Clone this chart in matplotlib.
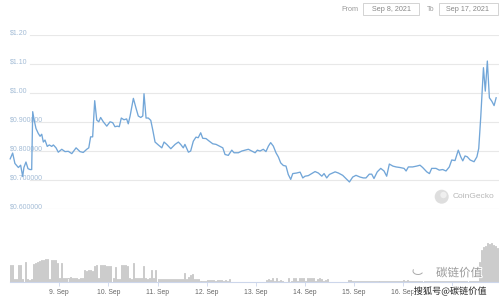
import matplotlib
matplotlib.use('Agg')
import matplotlib.pyplot as plt
import matplotlib.patches as mpatches
import matplotlib.patheffects as pe

plt.rcParams['font.family'] = ['Liberation Sans', 'Noto Sans CJK SC', 'DejaVu Sans']

# ---------------- data ----------------
# hours since 8 Sep 2021 00:00 and price in USD
hours = [0.0, 1.2, 2.3, 4.0, 5.1, 6.1, 6.7, 7.7, 8.7, 9.7, 10.5, 11.0, 11.6, 12.6, 13.7,
         14.6, 15.4, 16.2, 17.0, 18.1, 19.1, 20.3, 21.1, 22.4, 23.5, 25.2, 26.8, 28.4,
         30.1, 32.2, 34.1, 35.7, 37.4, 38.4, 39.3, 40.3, 41.3, 42.3, 43.3, 44.2, 45.5,
         47.2, 48.8, 50.1, 51.2, 52.4, 53.3, 54.3, 55.6, 56.9, 57.7, 58.6, 60.2, 61.5,
         62.6, 63.8, 64.8, 65.4, 66.4, 67.5, 68.7, 69.7, 70.8, 72.4, 74.1, 75.2, 76.5,
         78.5, 80.6, 82.2, 83.3, 84.6, 85.4, 87.1, 88.2, 89.5, 90.8, 91.9, 93.1, 94.1,
         95.7, 97.3, 99.0, 100.6, 102.2, 103.9, 105.0, 106.6, 108.3, 109.4, 111.5, 113.2,
         114.8, 116.4, 118.0, 119.7, 120.8, 122.1, 123.7, 125.0, 126.2, 127.3, 128.6,
         129.9, 131.1, 132.2, 133.5, 134.8, 135.9, 137.1, 138.1, 140.0, 141.7, 143.0,
         144.1, 145.7, 147.4, 149.0, 150.6, 152.3, 153.4, 154.7, 156.0, 158.8, 160.4,
         162.5, 164.1, 165.8, 167.4, 169.0, 171.0, 172.6, 173.9, 175.5, 176.7, 177.8,
         179.4, 181.1, 182.7, 184.0, 185.3, 187.0, 188.6, 190.5, 192.5, 193.5, 194.6,
         196.7, 198.7, 200.3, 201.6, 203.6, 204.9, 206.0, 208.1, 209.7, 211.4, 213.0,
         214.6, 215.8, 217.4, 219.0, 220.2, 221.2, 222.3, 223.4, 224.8, 226.7, 228.1,
         229.0, 230.0, 231.3, 232.2, 233.2, 234.2, 235.4, 236.5, 237.5]
prices = [0.772, 0.792, 0.756, 0.742, 0.750, 0.711, 0.742, 0.761, 0.738, 0.735, 0.735,
          0.935, 0.910, 0.877, 0.860, 0.850, 0.857, 0.830, 0.837, 0.815, 0.820, 0.815,
          0.820, 0.810, 0.795, 0.805, 0.797, 0.798, 0.790, 0.810, 0.797, 0.794, 0.805,
          0.810, 0.848, 0.848, 0.973, 0.906, 0.900, 0.915, 0.900, 0.885, 0.900, 0.897,
          0.883, 0.885, 0.883, 0.913, 0.907, 0.910, 0.893, 0.920, 0.981, 0.947, 0.920,
          0.915, 0.920, 0.997, 0.913, 0.913, 0.905, 0.871, 0.830, 0.820, 0.810, 0.830,
          0.822, 0.807, 0.822, 0.830, 0.822, 0.810, 0.822, 0.795, 0.799, 0.833, 0.847,
          0.845, 0.862, 0.843, 0.842, 0.833, 0.824, 0.822, 0.816, 0.810, 0.787, 0.784,
          0.802, 0.793, 0.793, 0.799, 0.802, 0.805, 0.799, 0.793, 0.802, 0.799, 0.805,
          0.797, 0.816, 0.828, 0.816, 0.793, 0.778, 0.758, 0.749, 0.747, 0.718, 0.701,
          0.721, 0.723, 0.726, 0.706, 0.712, 0.714, 0.721, 0.728, 0.723, 0.712, 0.721,
          0.706, 0.718, 0.727, 0.723, 0.715, 0.704, 0.692, 0.709, 0.715, 0.709, 0.706,
          0.706, 0.719, 0.719, 0.704, 0.727, 0.739, 0.730, 0.712, 0.754, 0.747, 0.744,
          0.742, 0.739, 0.730, 0.744, 0.744, 0.747, 0.750, 0.742, 0.727, 0.721, 0.739,
          0.739, 0.733, 0.735, 0.730, 0.744, 0.768, 0.766, 0.802, 0.779, 0.765, 0.782,
          0.779, 0.768, 0.762, 0.779, 0.808, 0.919, 1.087, 1.006, 1.110, 0.983, 0.971,
          0.956, 0.983]

# hourly volume (arbitrary units), one value per hour from 0 to 238
volume = [17, 17, 3, 3, 16.7, 16.7, 3, 19.7, 3, 2, 3,
          18, 19, 20, 21, 22, 22, 23, 23, 3, 22, 22, 22, 19, 4, 19,
          4, 4, 4, 5, 4, 4, 4, 3, 4, 4,
          12, 11, 12, 12, 11,
          16, 17, 4, 17, 17, 17, 16,
          16, 16, 4, 15,
          3, 3,
          17, 17, 17, 16,
          4, 3,
          19,
          4, 4, 4, 4,
          16,
          4, 3, 4,
          12,
          4,
          12,
          3, 3, 3, 3, 3, 3, 3, 3, 3, 3, 3, 3, 3,
          9,
          3, 5, 7, 8,
          3, 3, 3,
          1, 1, 1,
          2, 2, 2, 2, 1.5, 2, 2, 2, 1.5, 2, 1,
          3.3,
          0.5, 0.5, 0.5, 0.5, 0.5, 0.5, 0.5, 0.5, 0.5, 0.5, 0.5, 0.5, 0.5, 0.5, 0.5, 0.5, 0.5,
          1.7, 3, 2, 4, 1, 4, 1, 2, 1,
          0.5, 0.5,
          4, 1, 4, 4, 1, 4, 4, 4, 1, 4, 4, 4, 4, 1, 3, 4, 3, 1, 2, 3,
          0.5, 0.5, 0.5, 0.5, 0.5, 0.5, 0.5, 0.5, 0.5,
          1.7, 1.7,
          0.7, 0.7, 0.7, 0.7, 0.7, 0.7, 0.7, 0.7, 0.7, 0.7, 0.7, 0.7, 0.7, 0.7, 0.7, 0.7,
          0.7, 0.7, 0.7, 0.7, 0.7, 0.7, 0.7, 0.7, 0.7,
          2.3, 1.5, 2.3,
          0.8, 0.8, 0.8, 0.8, 0.8, 0.8, 0.8, 0.8, 0.8, 0.8, 0.8, 0.8, 0.8, 0.8, 0.8, 0.8, 0.8,
          0.8, 0.8, 0.8, 0.8, 0.8, 0.8, 0.8, 0.8, 0.8, 0.8, 0.8, 0.8, 0.8, 0.8, 0.8, 0.8, 0.8,
          20, 32, 35, 36, 39, 38, 39, 37, 36, 34]
vol_hours = list(range(len(volume)))

price_ticks = [0.6, 0.7, 0.8, 0.9, 1.0, 1.1, 1.2]
price_tick_labels = ['$0.600000', '$0.700000', '$0.800000', '$0.900000', '$1.00', '$1.10', '$1.20']
day_ticks = [24, 48, 72, 96, 120, 144, 168, 192, 216]
day_labels = ['9. Sep', '10. Sep', '11. Sep', '12. Sep', '13. Sep', '14. Sep',
              '15. Sep', '16. Sep', '17. Sep']
date_from = 'Sep 8, 2021'
date_to = 'Sep 17, 2021'

# ---------------- layout ----------------
W, H = 499, 298
fig = plt.figure(figsize=(W / 100, H / 100), dpi=100)
fig.patch.set_facecolor('white')

def fx(px):
    return px / W

def fy(py):
    return 1 - py / H

X0, X1 = 10.2, 499.0
XMAX = 238.9

# price panel
ax = fig.add_axes([fx(X0), fy(208.6), fx(X1) - fx(X0), fy(35.0) - fy(208.6)])
ax.set_xlim(0, XMAX)
ax.set_ylim(0.6, 1.2)
ax.axis('off')
for t, lab in zip(price_ticks, price_tick_labels):
    ax.axhline(t, xmin=(30 - X0) / (X1 - X0), xmax=1, color='#e8e8e8', lw=0.8, zorder=1)
    ax.annotate(lab, xy=(0, t), xycoords=('axes fraction', 'data'),
                xytext=(0, 1.4), textcoords='offset points',
                ha='left', va='center', fontsize=5.0, color='#a3bcd6', zorder=2)
ax.plot(hours, prices, color='#72a6d8', lw=0.95, zorder=3, clip_on=False,
        solid_joinstyle='round')

# volume panel
axv = fig.add_axes([fx(X0), fy(282), fx(X1) - fx(X0), fy(230) - fy(282)])
axv.set_xlim(0, XMAX)
axv.set_ylim(0, 52)
axv.bar(vol_hours, volume, width=0.5, align='edge', color='#f2f2f2',
        edgecolor='#b3b3b3', linewidth=0.45)
for s in ['top', 'left', 'right']:
    axv.spines[s].set_visible(False)
axv.spines['bottom'].set_color('#ccd6eb')
axv.spines['bottom'].set_linewidth(0.8)
axv.set_yticks([])
axv.set_xticks(day_ticks)
axv.set_xticklabels(day_labels)
axv.tick_params(axis='x', length=3, width=0.6, color='#ccd6eb', labelsize=4.9,
                labelcolor='#666666', pad=2)
axv.patch.set_alpha(0)

# overlay in pixel coordinates for header, logo, watermark
ov = fig.add_axes([0, 0, 1, 1], zorder=10)
ov.set_xlim(0, W)
ov.set_ylim(H, 0)
ov.axis('off')
ov.patch.set_alpha(0)

ov.text(349.5, 9.2, 'From', ha='center', va='center', fontsize=5.2, color='#9a9a9a')
ov.add_patch(mpatches.Rectangle((363.3, 2.7), 56.0, 12.3, facecolor='white',
                                edgecolor='#cccccc', lw=0.6))
ov.text(391.3, 9.2, date_from, ha='center', va='center', fontsize=5.2, color='#888888')
ov.text(430.5, 9.2, 'To', ha='center', va='center', fontsize=5.2, color='#9a9a9a')
ov.add_patch(mpatches.Rectangle((438.7, 2.7), 59.0, 12.3, facecolor='white',
                                edgecolor='#cccccc', lw=0.6))
ov.text(467.8, 9.2, date_to, ha='center', va='center', fontsize=5.2, color='#888888')

# CoinGecko logo
ov.add_patch(mpatches.Circle((441.7, 196.7), 7.0, facecolor='#dedede', edgecolor='none'))
ov.add_patch(mpatches.Circle((443.5, 195.0), 3.2, facecolor='#efefef', edgecolor='none'))
ov.text(452.5, 197.0, 'CoinGecko', ha='left', va='center', fontsize=6.0, color='#b8b8b8')

# watermark
ov.add_patch(mpatches.Arc((418, 271), 10, 7, theta1=20, theta2=200, color='#aaaaaa', lw=0.7))
ov.text(459, 273, '碳链价值', ha='center', va='center', fontsize=8.3, color='#9a9a9a',
        family=['Noto Sans CJK SC', 'DejaVu Sans'],
        path_effects=[pe.withStroke(linewidth=1.5, foreground='white')])
ov.text(450, 291.5, '搜狐号@碳链价值', ha='center', va='center', fontsize=6.6,
        color='#1e1e1e', family=['Noto Sans CJK SC', 'DejaVu Sans'],
        path_effects=[pe.withStroke(linewidth=1.6, foreground='white')])

fig.savefig('out.png', dpi=100, facecolor='white')
